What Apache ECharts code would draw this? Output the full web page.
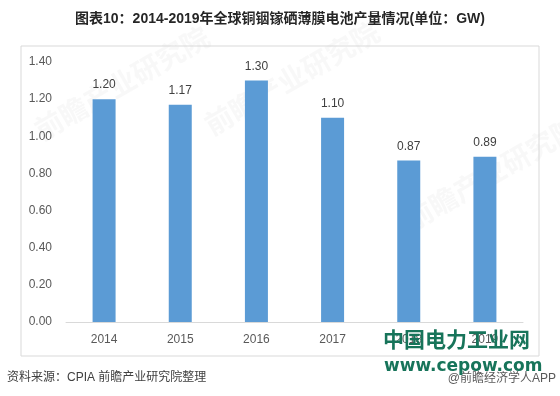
<!DOCTYPE html>
<html><head><meta charset="utf-8">
<script src="https://cdn.jsdelivr.net/npm/echarts@6/dist/echarts.min.js"></script>
<style>html,body{margin:0;padding:0;background:#fff}#c{width:560px;height:396px}</style>
</head><body><div id="c"></div>
<script>
const categories = ['2014','2015','2016','2017','2018','2019'];
const production = [1.20, 1.17, 1.30, 1.10, 0.87, 0.89];
const yTicks = [0, 0.2, 0.4, 0.6, 0.8, 1.0, 1.2, 1.4];
const titleText = '图表10：2014-2019年全球铜铟镓硒薄膜电池产量情况(单位：GW)';
const sourceText = '资料来源：CPIA 前瞻产业研究院整理';

const chart = echarts.init(document.getElementById('c'), null, {renderer:'canvas'});
const font = '"Liberation Sans", Arial, "Noto Sans CJK SC", sans-serif';
chart.setOption({
  animation:false,
  textStyle:{fontFamily:font},
  grid:{left:66,right:37,top:62,bottom:74},
  xAxis:{type:'category',data:categories,
    axisLine:{lineStyle:{color:'#d9d9d9'}},axisTick:{show:false},
    axisLabel:{color:'#595959',fontSize:12,margin:12,fontFamily:font}},
  yAxis:{type:'value',min:yTicks[0],max:yTicks[yTicks.length-1],interval:0.2,
    axisLine:{show:false},axisTick:{show:false},splitLine:{show:false},
    axisLabel:{color:'#595959',fontSize:12,margin:14,fontFamily:font,formatter:v=>v.toFixed(2)}},
  series:[{type:'bar',data:production,barWidth:23,
    itemStyle:{color:'#5b9bd5'},
    label:{show:true,position:'top',distance:8,color:'#404040',fontSize:12,fontFamily:font,formatter:p=>p.value.toFixed(2)}}],
  graphic:[
    {type:'rect',shape:{x:21,y:46,width:518,height:310},style:{fill:'none',stroke:'#d9d9d9',lineWidth:1},z:-1},
    {type:'text',left:'center',top:12,style:{text:titleText,fill:'#262626',font:'bold 14px '+font}},
    {type:'text',left:7,top:372,style:{text:sourceText,fill:'#404040',font:'12px '+font}},
    {type:'text',right:4,top:373,style:{text:'@前瞻经济学人APP',fill:'#595959',font:'12px '+font}},
    {type:'text',x:383,y:329,style:{text:'中国电力工业网',fill:'#17745a',font:'bold 21px "Noto Sans CJK SC", sans-serif'},z:100},
    {type:'text',x:384,y:358,style:{text:'www.cepow.com',fill:'#17745a',font:'bold 17px "DejaVu Sans", sans-serif'},z:100},
    {type:'text',x:30,y:120,rotation:Math.PI/6,style:{text:'前瞻产业研究院',fill:'rgba(215,215,215,0.18)',font:'bold 28px "Noto Sans CJK SC", sans-serif'},z:-2},
    {type:'text',x:200,y:115,rotation:Math.PI/6,style:{text:'前瞻产业研究院',fill:'rgba(215,215,215,0.18)',font:'bold 28px "Noto Sans CJK SC", sans-serif'},z:-2},
    {type:'text',x:400,y:210,rotation:Math.PI/6,style:{text:'前瞻产业研究院',fill:'rgba(215,215,215,0.18)',font:'bold 28px "Noto Sans CJK SC", sans-serif'},z:-2}
  ]
});
</script></body></html>
